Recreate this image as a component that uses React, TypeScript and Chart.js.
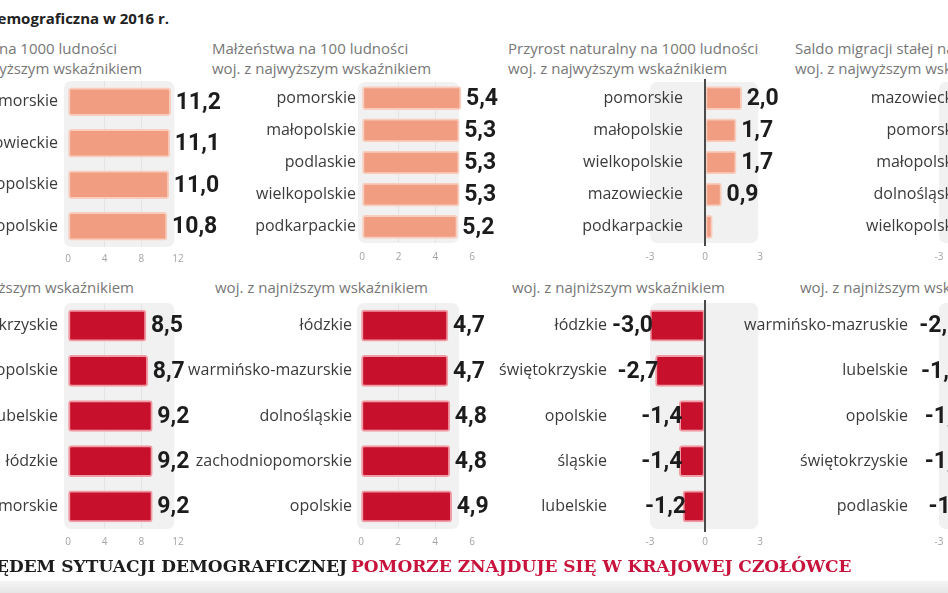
import React, { useEffect, useRef } from "react";
import { Chart, registerables } from "chart.js";
Chart.register(...registerables);

// ---------------- data ----------------
const birthsHighLabels = ["pomorskie", "mazowieckie", "wielkopolskie", "małopolskie"];
const birthsHighValues = [11.2, 11.1, 11.0, 10.8];
const birthsLowLabels = ["świętokrzyskie", "opolskie", "lubelskie", "łódzkie", "zachodniopomorskie"];
const birthsLowValues = [8.5, 8.7, 9.2, 9.2, 9.2];
const birthsTicks = [0, 4, 8, 12];

const marriagesHighLabels = ["pomorskie", "małopolskie", "podlaskie", "wielkopolskie", "podkarpackie"];
const marriagesHighValues = [5.4, 5.3, 5.3, 5.3, 5.2];
const marriagesLowLabels = ["łódzkie", "warmińsko-mazurskie", "dolnośląskie", "zachodniopomorskie", "opolskie"];
const marriagesLowValues = [4.7, 4.7, 4.8, 4.8, 4.9];
const marriagesTicks = [0, 2, 4, 6];

const growthHighLabels = ["pomorskie", "małopolskie", "wielkopolskie", "mazowieckie", "podkarpackie"];
const growthHighValues = [2.0, 1.7, 1.7, 0.9, 0.4];
const growthHighHiddenValues = [4];
const growthLowLabels = ["łódzkie", "świętokrzyskie", "opolskie", "śląskie", "lubelskie"];
const growthLowValues = [-3.0, -2.7, -1.4, -1.4, -1.2];
const growthTicks = [-3, 0, 3];

const migrationHighLabels = ["mazowieckie", "pomorskie", "małopolskie", "dolnośląskie", "wielkopolskie"];
const migrationHighValues = [1.6, 1.2, 1.1, 0.4, 0.2];
const migrationLowLabels = ["warmińsko-mazruskie", "lubelskie", "opolskie", "świętokrzyskie", "podlaskie"];
const migrationLowValues = [-2.0, -1.9, -1.7, -1.7, -1.5];
const migrationTicks = [-3, 0, 3];

const headersTop = [
  ["Urodzenia na 1000 ludności", "woj. z najwyższym wskaźnikiem"],
  ["Małżeństwa na 100 ludności", "woj. z najwyższym wskaźnikiem"],
  ["Przyrost naturalny na 1000 ludności", "woj. z najwyższym wskaźnikiem"],
  ["Saldo migracji stałej na 1000 ludności", "woj. z najwyższym wskaźnikiem"],
];
const headerBottom = "woj. z najniższym wskaźnikiem";
const titleText = "Sytuacja demograficzna w 2016 r.";
const footerBlack = "POD WZGLĘDEM SYTUACJI DEMOGRAFICZNEJ";
const footerRed = "POMORZE ZNAJDUJE SIĘ W KRAJOWEJ CZOŁÓWCE";

// ---------------- styling / layout ----------------
const CW = 1120;
const CH = 593;
const SALMON = "#f09d82";
const SALMON_HALO = "#f8cdbd";
const RED = "#c6102c";
const RED_HALO = "#f09aa4";

type Spec = {
  labels: string[];
  values: number[];
  hidden?: number[];
  ticks: number[];
  left: number;
  right: number;
  top: number;
  bottom: number;
  bar: string;
  halo: string;
  thickness: number;
  labelGap?: number;
  labelRight?: number;
  panelPad: number;
  panelMax: number;
  zero: boolean;
  tickPad: number;
};

const fmt = (v: number) => v.toFixed(1).replace(".", ",");

function makePlugin(spec: Spec) {
  return {
    id: "decor",
    beforeDraw(chart: any) {
      const { ctx, chartArea, scales } = chart;
      const x = scales.x;
      const x0 = x.getPixelForValue(spec.ticks[0]) - spec.panelPad;
      const x1 = x.getPixelForValue(spec.panelMax);
      ctx.save();
      ctx.fillStyle = "#f1f1f1";
      ctx.beginPath();
      (ctx as any).roundRect(x0, chartArea.top, x1 - x0, chartArea.bottom - chartArea.top, 7);
      ctx.fill();
      ctx.restore();
    },
    afterDatasetsDraw(chart: any) {
      const { ctx, chartArea, scales } = chart;
      const x = scales.x;
      const y = scales.y;
      ctx.save();
      if (spec.zero) {
        const zx = Math.round(x.getPixelForValue(0));
        ctx.strokeStyle = "#4a4a4a";
        ctx.lineWidth = 2;
        ctx.beginPath();
        ctx.moveTo(zx, chartArea.top - 3);
        ctx.lineTo(zx, chartArea.bottom + 3);
        ctx.stroke();
      }
      spec.labels.forEach((lab, i) => {
        const v = spec.values[i];
        const cy = y.getPixelForValue(i);
        ctx.font = "16px 'Open Sans'";
        ctx.fillStyle = "#3b3b3b";
        ctx.textAlign = "right";
        ctx.textBaseline = "middle";
        const lx = spec.labelRight !== undefined ? spec.labelRight : x.getPixelForValue(0) - (spec.labelGap || 8);
        ctx.fillText(lab, lx, cy);
        if (spec.hidden && spec.hidden.includes(i)) return;
        ctx.font = "bold 23px Roboto";
        ctx.fillStyle = "#1c1c1c";
        if (v >= 0) {
          ctx.textAlign = "left";
          ctx.fillText(fmt(v), x.getPixelForValue(v) + 5, cy + 1);
        } else {
          ctx.textAlign = "right";
          ctx.fillText(fmt(v), x.getPixelForValue(v) + 3, cy + 1);
        }
      });
      ctx.restore();
    },
  };
}

function MiniChart({ spec }: { spec: Spec }) {
  const ref = useRef<HTMLCanvasElement>(null);
  useEffect(() => {
    const min = spec.ticks[0];
    const max = spec.ticks[spec.ticks.length - 1];
    const chart = new Chart(ref.current as HTMLCanvasElement, {
      type: "bar",
      data: {
        labels: spec.labels,
        datasets: [
          {
            data: spec.values,
            backgroundColor: spec.bar,
            borderColor: spec.halo,
            borderWidth: 2,
            borderRadius: 3,
            borderSkipped: false,
            barThickness: spec.thickness,
          } as any,
        ],
      },
      options: {
        indexAxis: "y",
        responsive: false,
        animation: false,
        devicePixelRatio: 1,
        layout: {
          padding: {
            left: spec.left,
            right: CW - spec.right,
            top: spec.top,
            bottom: CH - spec.bottom - 20,
          },
        },
        plugins: { legend: { display: false }, tooltip: { enabled: false }, title: { display: false } },
        scales: {
          x: {
            type: "linear",
            min,
            max,
            afterBuildTicks: (s: any) => {
              s.ticks = spec.ticks.map((v) => ({ value: v }));
            },
            afterFit: (s: any) => {
              s.height = 20;
            },
            grid: {
              drawTicks: false,
              lineWidth: 1,
              color: (c: any) => {
                const v = c.tick ? c.tick.value : min;
                return v > min && v < max && !(spec.zero && v === 0) ? "#e4e4e4" : "rgba(0,0,0,0)";
              },
            },
            border: { display: false },
            ticks: {
              padding: spec.tickPad,
              autoSkip: false,
              maxRotation: 0,
              color: "#a3a3a3",
              font: { size: 10, family: "'Open Sans'" },
            },
          },
          y: { display: false },
        },
      } as any,
      plugins: [makePlugin(spec)],
    });
    return () => chart.destroy();
  }, []);
  return (
    <canvas
      ref={ref}
      width={CW}
      height={CH}
      style={{ position: "absolute", left: 0, top: 0, width: CW, height: CH }}
    />
  );
}

const TOP_T = 82;
const TOP_B = 243;
const BOT_T = 303;
const BOT_B = 529;

const specs: Spec[] = [
  { labels: birthsHighLabels, values: birthsHighValues, ticks: birthsTicks, left: 68, right: 178, top: 81, bottom: 247,
    bar: SALMON, halo: SALMON_HALO, thickness: 28, labelGap: 10, panelPad: 4, panelMax: 11.6, zero: false, tickPad: 6 },
  { labels: birthsLowLabels, values: birthsLowValues, ticks: birthsTicks, left: 68, right: 178, top: BOT_T, bottom: BOT_B,
    bar: RED, halo: RED_HALO, thickness: 31, labelGap: 10, panelPad: 4, panelMax: 11.6, zero: false, tickPad: 7 },
  { labels: marriagesHighLabels, values: marriagesHighValues, ticks: marriagesTicks, left: 362, right: 472, top: TOP_T, bottom: TOP_B,
    bar: SALMON, halo: SALMON_HALO, thickness: 23, labelGap: 6, panelPad: 4, panelMax: 5.3, zero: false, tickPad: 8 },
  { labels: marriagesLowLabels, values: marriagesLowValues, ticks: marriagesTicks, left: 361, right: 472, top: BOT_T, bottom: BOT_B,
    bar: RED, halo: RED_HALO, thickness: 31, labelGap: 9, panelPad: 4, panelMax: 5.3, zero: false, tickPad: 7 },
  { labels: growthHighLabels, values: growthHighValues, hidden: growthHighHiddenValues, ticks: growthTicks, left: 650, right: 760, top: TOP_T, bottom: TOP_B,
    bar: SALMON, halo: SALMON_HALO, thickness: 23, labelGap: 22, panelPad: 0, panelMax: 2.9, zero: true, tickPad: 8 },
  { labels: growthLowLabels, values: growthLowValues, ticks: growthTicks, left: 650, right: 760, top: BOT_T, bottom: BOT_B,
    bar: RED, halo: RED_HALO, thickness: 31, labelRight: 607, panelPad: 0, panelMax: 2.9, zero: true, tickPad: 7 },
  { labels: migrationHighLabels, values: migrationHighValues, ticks: migrationTicks, left: 939, right: 1049, top: TOP_T, bottom: TOP_B,
    bar: SALMON, halo: SALMON_HALO, thickness: 23, labelGap: 28, panelPad: 0, panelMax: 2.9, zero: true, tickPad: 8 },
  { labels: migrationLowLabels, values: migrationLowValues, ticks: migrationTicks, left: 939, right: 1049, top: BOT_T, bottom: BOT_B,
    bar: RED, halo: RED_HALO, thickness: 31, labelRight: 908, panelPad: 0, panelMax: 2.9, zero: true, tickPad: 7 },
];

const headerStyle: React.CSSProperties = {
  position: "absolute",
  fontFamily: "'Open Sans', sans-serif",
  fontSize: 15,
  lineHeight: "20px",
  color: "#777",
  whiteSpace: "nowrap",
};

const topHeaderLeft = [-77, 212, 508, 795];
const bottomHeaderLeft = [-79, 215, 512, 800];

export default function App() {
  return (
    <div
      style={{
        position: "fixed",
        left: 0,
        top: 0,
        width: 948,
        height: 593,
        overflow: "hidden",
        background: "#ffffff",
      }}
    >
      <div
        style={{
          position: "absolute",
          right: 948 - 169,
          top: 8,
          fontFamily: "'Open Sans', sans-serif",
          fontWeight: 700,
          fontSize: 15,
          lineHeight: "20px",
          color: "#222",
          whiteSpace: "nowrap",
        }}
      >
        {titleText}
      </div>
      {headersTop.map((h, i) => (
        <div key={"t" + i} style={{ ...headerStyle, left: topHeaderLeft[i], top: 38 }}>
          {h[0]}
          <br />
          {h[1]}
        </div>
      ))}
      {bottomHeaderLeft.map((l, i) => (
        <div key={"b" + i} style={{ ...headerStyle, left: l, top: 277 }}>
          {headerBottom}
        </div>
      ))}
      {specs.map((s, i) => (
        <MiniChart key={i} spec={s} />
      ))}
      <div
        style={{
          position: "absolute",
          left: 0,
          top: 581,
          width: 948,
          height: 12,
          background: "linear-gradient(#f4f4f4, #e6e6e6)",
        }}
      />
      <div
        style={{
          position: "absolute",
          right: 948 - 347,
          top: 556,
          fontFamily: "'DejaVu Serif', serif",
          fontWeight: 700,
          fontSize: 17,
          lineHeight: "20px",
          color: "#1d1d1d",
          whiteSpace: "nowrap",
        }}
      >
        {footerBlack}
      </div>
      <div
        style={{
          position: "absolute",
          left: 351,
          top: 556,
          fontFamily: "'DejaVu Serif', serif",
          fontWeight: 700,
          fontSize: 17,
          lineHeight: "20px",
          color: "#c8143c",
          whiteSpace: "nowrap",
        }}
      >
        {footerRed}
      </div>
    </div>
  );
}
